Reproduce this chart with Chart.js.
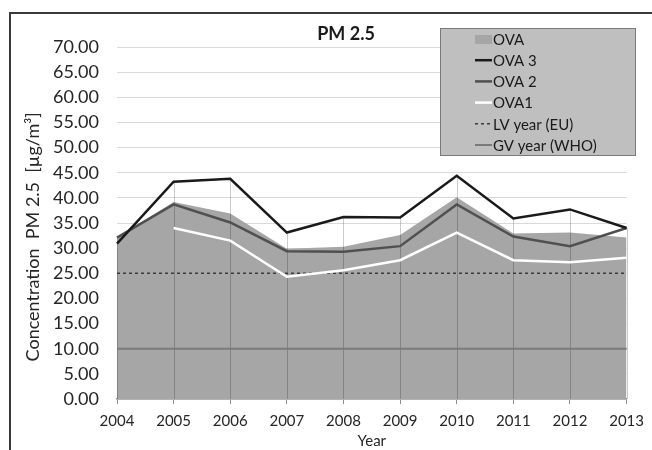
<!DOCTYPE html>
<html>
<head>
<meta charset="utf-8">
<script src="https://cdn.jsdelivr.net/npm/chart.js@4.4.0/dist/chart.umd.min.js"></script>
<style>
  html, body { margin: 0; padding: 0; background: #fff; overflow: hidden; }
  #wrap { position: relative; width: 652px; height: 450px; }
  #frame { position: absolute; left: 9px; top: 12px; width: 700px; height: 500px; border: 2px solid #3a3a3a; }
  canvas { position: absolute; left: 0; top: 0; }
</style>
</head>
<body>
<div id="wrap">
  <div id="frame"></div>
  <canvas id="pmChart" width="652" height="450"></canvas>
</div>
<script>
// Werte
const years = ['2004', '2005', '2006', '2007', '2008', '2009', '2010', '2011', '2012', '2013'];
const ova   = [32.1, 39.2, 36.9, 29.9, 30.3, 32.6, 40.1, 32.9, 33.1, 32.1];
const ova3  = [30.9, 43.2, 43.8, 33.1, 36.2, 36.1, 44.4, 35.9, 37.7, 34.0];
const ova2  = [32.1, 38.7, 35.1, 29.4, 29.3, 30.4, 38.7, 32.3, 30.4, 34.0];
const ova1  = [null, 34.0, 31.5, 24.3, 25.6, 27.6, 33.1, 27.6, 27.2, 28.1];
const lvEU  = [25, 25, 25, 25, 25, 25, 25, 25, 25, 25];
const gvWHO = [10, 10, 10, 10, 10, 10, 10, 10, 10, 10];

const FONT = 'Lato, "Open Sans", sans-serif';

// Fallinien von OVA 3 bis zur x-Achse (wie in Excel)
const dropLines = {
  id: 'dropLines',
  afterDatasetDraw(chart, args) {
    if (args.index !== 0) return;
    const { ctx, scales: { x, y } } = chart;
    ctx.save();
    ctx.strokeStyle = 'rgba(0,0,0,0.2)';
    ctx.lineWidth = 1;
    ova3.forEach((v, i) => {
      const px = Math.round(x.getPixelForValue(i)) + 0.5;
      ctx.beginPath();
      ctx.moveTo(px, y.getPixelForValue(v));
      ctx.lineTo(px, y.getPixelForValue(0));
      ctx.stroke();
    });
    ctx.restore();
  }
};

// Titel und Legende im grauen Kasten
const boxLegend = {
  id: 'boxLegend',
  afterDraw(chart) {
    const ctx = chart.ctx;
    ctx.save();
    ctx.fillStyle = '#1a1a1a';
    ctx.font = 'bold 18px ' + FONT;
    ctx.textAlign = 'center';
    ctx.textBaseline = 'middle';
    ctx.fillText('PM 2.5', 346, 34);

    ctx.fillStyle = '#bfbfbf';
    ctx.fillRect(440.5, 28.5, 195, 127);
    ctx.strokeStyle = '#7a7a7a';
    ctx.lineWidth = 1;
    ctx.strokeRect(440.5, 28.5, 195, 127);

    ctx.font = '15px ' + FONT;
    ctx.textAlign = 'left';
    chart.data.datasets.forEach((ds, i) => {
      const yy = 39 + i * 21.2;
      if (ds.fill) {
        ctx.fillStyle = ds.backgroundColor;
        ctx.fillRect(475, yy - 4, 17, 9);
      } else {
        ctx.strokeStyle = ds.borderColor;
        ctx.lineWidth = ds.borderWidth;
        ctx.setLineDash(ds.borderDash || []);
        ctx.beginPath();
        ctx.moveTo(475, yy);
        ctx.lineTo(492, yy);
        ctx.stroke();
        ctx.setLineDash([]);
      }
      ctx.fillStyle = '#1a1a1a';
      ctx.fillText(ds.label, 493, yy + 1);
    });
    ctx.restore();
  }
};

const ctx = document.getElementById('pmChart').getContext('2d');
const myChart = new Chart(ctx, {
  type: 'line',
  data: {
    labels: years,
    datasets: [
      { label: 'OVA', data: ova, fill: 'origin', backgroundColor: '#a6a6a6', borderWidth: 0, borderColor: 'rgba(0,0,0,0)', order: 10 },
      { label: 'OVA 3', data: ova3, borderColor: '#1a1a1a', borderWidth: 2.5, order: 1 },
      { label: 'OVA 2', data: ova2, borderColor: '#505050', borderWidth: 2.5, order: 3 },
      { label: 'OVA1', data: ova1, borderColor: '#ffffff', borderWidth: 2.5, order: 2 },
      { label: 'LV year (EU)', data: lvEU, borderColor: '#3a3a3a', borderWidth: 1.5, borderDash: [3, 3], order: 4 },
      { label: 'GV year (WHO)', data: gvWHO, borderColor: '#7a7a7a', borderWidth: 2, order: 5 }
    ]
  },
  options: {
    responsive: false,
    animation: false,
    devicePixelRatio: 1,
    layout: { padding: { top: 47, right: 18, left: 0, bottom: 0 } },
    elements: { point: { radius: 0 }, line: { tension: 0, fill: false } },
    plugins: { legend: { display: false }, tooltip: { enabled: false } },
    scales: {
      x: {
        offset: false,
        afterFit(scale) { scale.height = 51; },
        grid: { drawOnChartArea: false, drawTicks: true, tickLength: 5, color: '#8c8c8c' },
        border: { display: true, color: '#8c8c8c', width: 1.5 },
        ticks: { color: '#262626', font: { family: FONT, size: 15 }, padding: 8, maxRotation: 0, autoSkip: false },
        title: { display: true, text: 'Year', color: '#262626', font: { family: FONT, size: 15 }, padding: { top: 0, bottom: 0 } }
      },
      y: {
        min: 0,
        max: 70,
        afterFit(scale) { scale.width = 117; },
        grid: { color: '#d9d9d9', drawTicks: false },
        border: { display: false },
        ticks: { stepSize: 5, color: '#262626', font: { family: FONT, size: 18 }, padding: 18, callback: v => v.toFixed(2) },
        // Leerzeichen am Ende schieben den Titel etwas nach unten
        title: { display: true, text: 'Concentration  PM 2.5  [µg/m³]      ', color: '#262626', font: { family: FONT, size: 18 }, padding: { top: 22, bottom: 0 } }
      }
    }
  },
  plugins: [dropLines, boxLegend]
});
</script>
</body>
</html>
